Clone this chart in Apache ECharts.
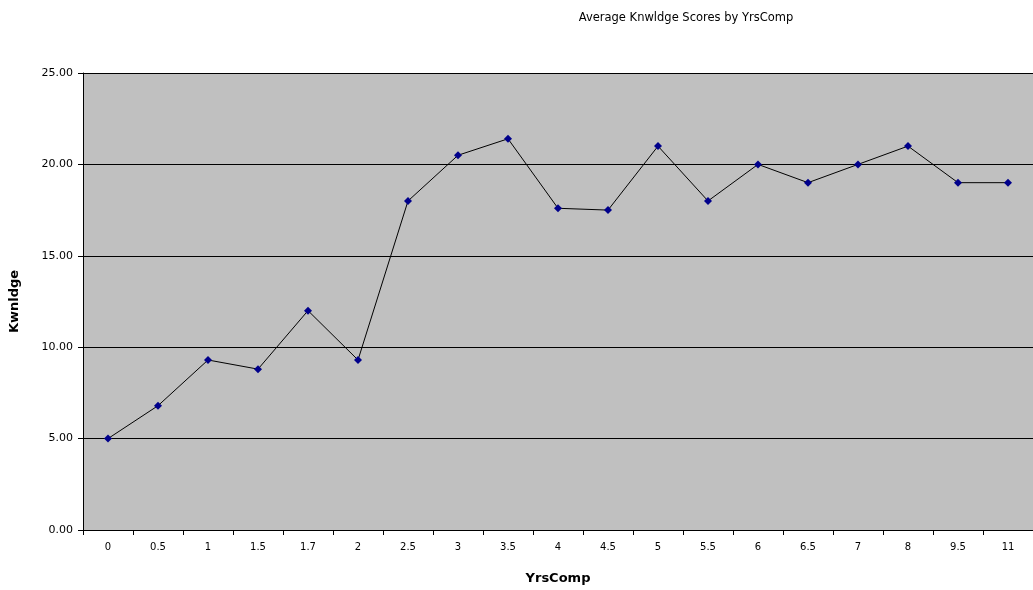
<!DOCTYPE html>
<html><head><meta charset="utf-8">
<script src="https://cdn.jsdelivr.net/npm/echarts@6/dist/echarts.min.js"></script>
<style>html,body{margin:0;padding:0;background:#fff}#c{width:1033px;height:590px}</style>
</head><body><div id="c"></div>
<script>
const categories = ['0','0.5','1','1.5','1.7','2','2.5','3','3.5','4','4.5','5','5.5','6','6.5','7','8','9.5','11'];
const scores = [5.0, 6.8, 9.3, 8.8, 12.0, 9.3, 18.0, 20.5, 21.4, 17.6, 17.5, 21.0, 18.0, 20.0, 19.0, 20.0, 21.0, 19.0, 19.0];
const chart = echarts.init(document.getElementById('c'));
const font = 'DejaVu Sans, Arial, sans-serif';
chart.setOption({
  animation: false,
  backgroundColor: '#fff',
  title: { text: 'Average Knwldge Scores by YrsComp', left: 681, top: 7, textAlign: 'center',
    textStyle: { fontFamily: font, fontSize: 11.5, fontWeight: 'normal', color: '#000' } },
  grid: { left: 83, right: 0, top: 73, bottom: 60, show: true, backgroundColor: '#c0c0c0', borderWidth: 0 },
  xAxis: { type: 'category', data: categories, boundaryGap: true,
    name: 'YrsComp', nameLocation: 'middle', nameGap: 42,
    nameTextStyle: { fontFamily: font, fontSize: 13, fontWeight: 900, color: '#000' },
    axisLine: { lineStyle: { color: '#000', width: 1 } },
    axisTick: { show: true, alignWithLabel: false, length: 5, lineStyle: { color: '#000' } },
    axisLabel: { fontFamily: font, fontSize: 10, color: '#000', margin: 12 },
    splitLine: { show: false } },
  yAxis: { type: 'value', min: 0, max: 25, interval: 5,
    name: 'Kwnldge', nameLocation: 'middle', nameGap: 62, nameRotate: 90,
    nameTextStyle: { fontFamily: font, fontSize: 13, fontWeight: 900, color: '#000' },
    axisLine: { show: true, lineStyle: { color: '#000', width: 1 } },
    axisTick: { show: true, length: 5, lineStyle: { color: '#000' } },
    axisLabel: { fontFamily: font, fontSize: 11, color: '#000', margin: 10, formatter: v => v.toFixed(2) },
    splitLine: { show: true, lineStyle: { color: '#000', width: 1 } } },
  series: [{ type: 'line', data: scores, symbol: 'diamond', symbolSize: 8,
    lineStyle: { color: '#000', width: 1 }, itemStyle: { color: '#00008b' } }]
});
</script></body></html>
